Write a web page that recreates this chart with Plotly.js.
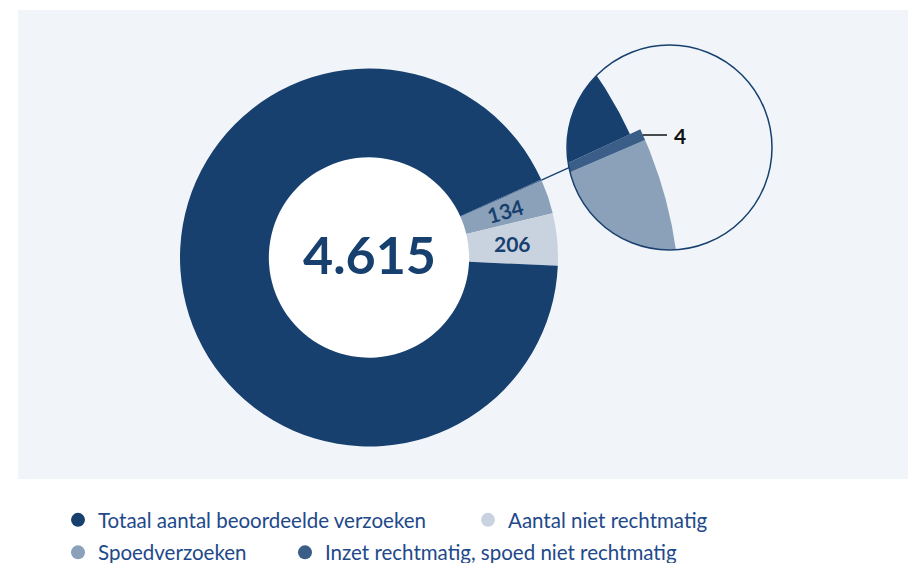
<!DOCTYPE html>
<html><head><meta charset="utf-8">
<script src="https://cdn.plot.ly/plotly-3.0.1.min.js"></script>
<style>html,body{margin:0;padding:0;background:#fff}</style>
</head><body><div id="chart" style="width:908px;height:563px"></div>
<script>
// ---- data ----
const categories = ['Totaal aantal beoordeelde verzoeken', 'Aantal niet rechtmatig', 'Spoedverzoeken', 'Inzet rechtmatig, spoed niet rechtmatig'];
const totalRequests = 4615;
const nietRechtmatig = 206;
const spoedverzoeken = 134;
const inzetRechtmatigSpoedNiet = 4;
const colors = ['#17406f', '#c9d3df', '#8ba1b9', '#3b5e88'];

// ---- layout geometry (pixels) ----
const W = 908, H = 563;
const cx = 369, cy = 257.5, R = 189, holeFrac = 0.53;
const startDeg = -2.5;                 // bottom edge of the 206 slice (math angle)
const zc = {x: 669.5, y: 147.5, r: 102.5};
const bandEndR = 295;                  // distance (from pie centre) of the zoomed view's reference radius
const zoomR = 420, zoomMag = 5;        // radius and angular magnification of the zoomed view
const zoomRadiusScale = [1.012, 1, 0.985, 1.012];   // small per-slice outline tweak in the zoom
const darkBlue = '#17406f', legendBlue = '#21498a';

const restValue = totalRequests - nietRechtmatig - spoedverzoeken - inzetRechtmatigSpoedNiet;
// clockwise order starting at the top edge of the 134 slice
const pieValues = [spoedverzoeken, nietRechtmatig, restValue, inzetRechtmatigSpoedNiet];
const pieLabels = [categories[2], categories[1], categories[0], categories[3]];
const pieColors = [colors[2], colors[1], colors[0], colors[3]];
const labelAngles = [-16, 0, 0, 0];     // text rotation of the slice labels
const labelShown = [true, true, false, false];
const sum = pieValues.reduce((a, b) => a + b, 0);
const deg = v => v / sum * 360;
const topAngle = startDeg + deg(nietRechtmatig) + deg(spoedverzoeken);

// math-angle bounds of each slice (going clockwise = decreasing angle)
let acc = topAngle;
const bounds = pieValues.map(v => { const a1 = acc; acc -= deg(v); return [acc, a1]; });
// bring the tiny last slice next to the first one (wrap around)
bounds[3] = [bounds[3][0] + 360, bounds[3][1] + 360];
const pivot = (bounds[3][0] + bounds[3][1]) / 2;

const Pc = (c, r, a) => [c[0] + r * Math.cos(a * Math.PI / 180), c[1] - r * Math.sin(a * Math.PI / 180)];
const P = (r, a) => Pc([cx, cy], r, a);
const zoomCenter = P(bandEndR - zoomR, pivot);

function sectorPoly(c, a0, a1, r) {
  const pts = [c];
  const n = 240;
  for (let i = 0; i <= n; i++) pts.push(Pc(c, r, a0 + (a1 - a0) * i / n));
  return pts;
}
function circlePoly(c, n) {
  const pts = [];
  for (let i = 0; i < n; i++) { const t = 2 * Math.PI * i / n; pts.push([c.x + c.r * Math.cos(t), c.y + c.r * Math.sin(t)]); }
  return pts;
}
function intersect(p, q, a, b) {
  const d = (p[0] - q[0]) * (a[1] - b[1]) - (p[1] - q[1]) * (a[0] - b[0]);
  const t = ((p[0] - a[0]) * (a[1] - b[1]) - (p[1] - a[1]) * (a[0] - b[0])) / d;
  return [p[0] + t * (q[0] - p[0]), p[1] + t * (q[1] - p[1])];
}
function clip(subject, clipP) {
  const mx = clipP.reduce((s, p) => s + p[0], 0) / clipP.length;
  const my = clipP.reduce((s, p) => s + p[1], 0) / clipP.length;
  let out = subject;
  for (let i = 0; i < clipP.length && out.length; i++) {
    const A = clipP[i], B = clipP[(i + 1) % clipP.length];
    const side = p => (B[0] - A[0]) * (p[1] - A[1]) - (B[1] - A[1]) * (p[0] - A[0]);
    const s0 = side([mx, my]) > 0 ? 1 : -1;
    const inside = p => side(p) * s0 >= 0;
    const input = out; out = [];
    for (let j = 0; j < input.length; j++) {
      const cur = input[j], prev = input[(j + input.length - 1) % input.length];
      if (inside(cur)) { if (!inside(prev)) out.push(intersect(prev, cur, A, B)); out.push(cur); }
      else if (inside(prev)) out.push(intersect(prev, cur, A, B));
    }
  }
  return out;
}

const traces = [];
// main donut
traces.push({
  type: 'pie', values: pieValues, labels: pieLabels, sort: false, direction: 'clockwise',
  rotation: 90 - topAngle, hole: holeFrac,
  domain: {x: [(cx - R) / W, (cx + R) / W], y: [1 - (cy + R) / H, 1 - (cy - R) / H]},
  marker: {colors: pieColors, line: {width: 0}},
  textinfo: 'none',
  showlegend: false, hoverinfo: 'label+value'
});

// zoomed detail (magnified angles around the tiny slice), clipped to the zoom circle
const zoomClip = circlePoly(zc, 360);
const zoomSectors = [
  [pivot + (bounds[0][0] - pivot) * zoomMag, pivot + (bounds[0][1] - pivot) * zoomMag, 0],
  [pivot + (bounds[3][1] - pivot) * zoomMag, pivot + 90, 2],
  [pivot + (bounds[3][0] - pivot) * zoomMag, pivot + (bounds[3][1] - pivot) * zoomMag, 3]
];
zoomSectors.forEach(([a0, a1, i]) => {
  a0 = Math.max(a0, pivot - 90); a1 = Math.min(a1, pivot + 90);
  if (a1 <= a0) return;
  const poly = clip(sectorPoly(zoomCenter, a0, a1, zoomR * zoomRadiusScale[i]), zoomClip);
  if (poly.length < 3) return;
  poly.push(poly[0]);
  traces.push({type: 'scatter', mode: 'lines', x: poly.map(p => p[0]), y: poly.map(p => p[1]),
    fill: 'toself', fillcolor: pieColors[i], line: {width: 0}, hoverinfo: 'skip', showlegend: false});
});

// legend entries
const legendWidths = [365, null, 182, null];
const legendIds = ['legend', 'legend', 'legend2', 'legend2'];
categories.forEach((c, i) => {
  const t = {type: 'scatter', mode: 'markers', x: [null], y: [null], name: c,
    marker: {color: colors[i], size: 14, symbol: 'circle'}, legend: legendIds[i], hoverinfo: 'skip'};
  if (legendWidths[i]) t.legendwidth = legendWidths[i];
  traces.push(t);
});

// connector from the pie edge to the zoom circle
const u = [Math.cos(pivot * Math.PI / 180), -Math.sin(pivot * Math.PI / 180)];
const dv = [cx - zc.x, cy - zc.y];
const bq = u[0] * dv[0] + u[1] * dv[1];
const cq = dv[0] * dv[0] + dv[1] * dv[1] - zc.r * zc.r;
const tHit = -bq - Math.sqrt(bq * bq - cq);
const pEdge = P(R, pivot), pHit = P(tHit, pivot);
const pBand = Pc(zoomCenter, zoomR * zoomRadiusScale[3], pivot);

const fmt = n => String(n).replace(/\B(?=(\d{3})+(?!\d))/g, '.');

// slice value labels at the middle of each slice ring
const sliceAnnotations = [];
pieValues.forEach((v, i) => {
  if (!labelShown[i]) return;
  const mid = (bounds[i][0] + bounds[i][1]) / 2;
  const pt = P(R * (1 + holeFrac) / 2, mid);
  sliceAnnotations.push({xref: 'x', yref: 'y', x: pt[0], y: pt[1], text: '<b>' + v + '</b>', showarrow: false,
    textangle: labelAngles[i], font: {family: 'Lato', size: 21, color: darkBlue}});
});

const legendFont = {family: 'Lato', size: 20.5, color: legendBlue};
const layout = {
  width: W, height: H, margin: {l: 0, r: 0, t: 0, b: 0, autoexpand: false},
  paper_bgcolor: '#ffffff', plot_bgcolor: 'rgba(0,0,0,0)',
  xaxis: {range: [0, W], visible: false, fixedrange: true},
  yaxis: {range: [H, 0], visible: false, fixedrange: true},
  showlegend: true,
  legend: {orientation: 'h', x: 58 / W, xanchor: 'left', y: 1 - 520 / H, yanchor: 'middle', font: legendFont, bgcolor: 'rgba(0,0,0,0)', itemclick: false, itemdoubleclick: false},
  legend2: {orientation: 'h', x: 58 / W, xanchor: 'left', y: 1 - 552.5 / H, yanchor: 'middle', font: legendFont, bgcolor: 'rgba(0,0,0,0)', itemclick: false, itemdoubleclick: false},
  shapes: [
    {type: 'rect', xref: 'x', yref: 'y', x0: 18, x1: W, y0: 10, y1: 479, fillcolor: '#f1f5f9', line: {width: 0}, layer: 'below'},
    {type: 'circle', xref: 'x', yref: 'y', x0: cx - R * holeFrac, x1: cx + R * holeFrac, y0: cy - R * holeFrac, y1: cy + R * holeFrac, fillcolor: '#ffffff', line: {width: 0}, layer: 'below'},
    {type: 'circle', xref: 'x', yref: 'y', x0: zc.x - zc.r, x1: zc.x + zc.r, y0: zc.y - zc.r, y1: zc.y + zc.r, line: {color: darkBlue, width: 1.5}, layer: 'above'},
    {type: 'line', xref: 'x', yref: 'y', x0: pEdge[0], y0: pEdge[1], x1: pHit[0], y1: pHit[1], line: {color: darkBlue, width: 1.3}},
    {type: 'line', xref: 'x', yref: 'y', x0: pBand[0], y0: 135, x1: 667, y1: 135, line: {color: '#111111', width: 1.5}}
  ],
  annotations: [
    {xref: 'x', yref: 'y', x: cx, y: cy, yshift: 4, text: '<b>' + fmt(totalRequests) + '</b>', showarrow: false, font: {family: 'Lato', size: 52, color: darkBlue}},
    {xref: 'x', yref: 'y', x: 672, y: 135, xanchor: 'left', yanchor: 'middle', text: '<b>' + inzetRechtmatigSpoedNiet + '</b>', showarrow: false, font: {family: 'Lato', size: 21, color: '#111111'}}
  ].concat(sliceAnnotations)
};
Plotly.newPlot('chart', traces, layout, {displayModeBar: false, staticPlot: true});
</script>
</body></html>
